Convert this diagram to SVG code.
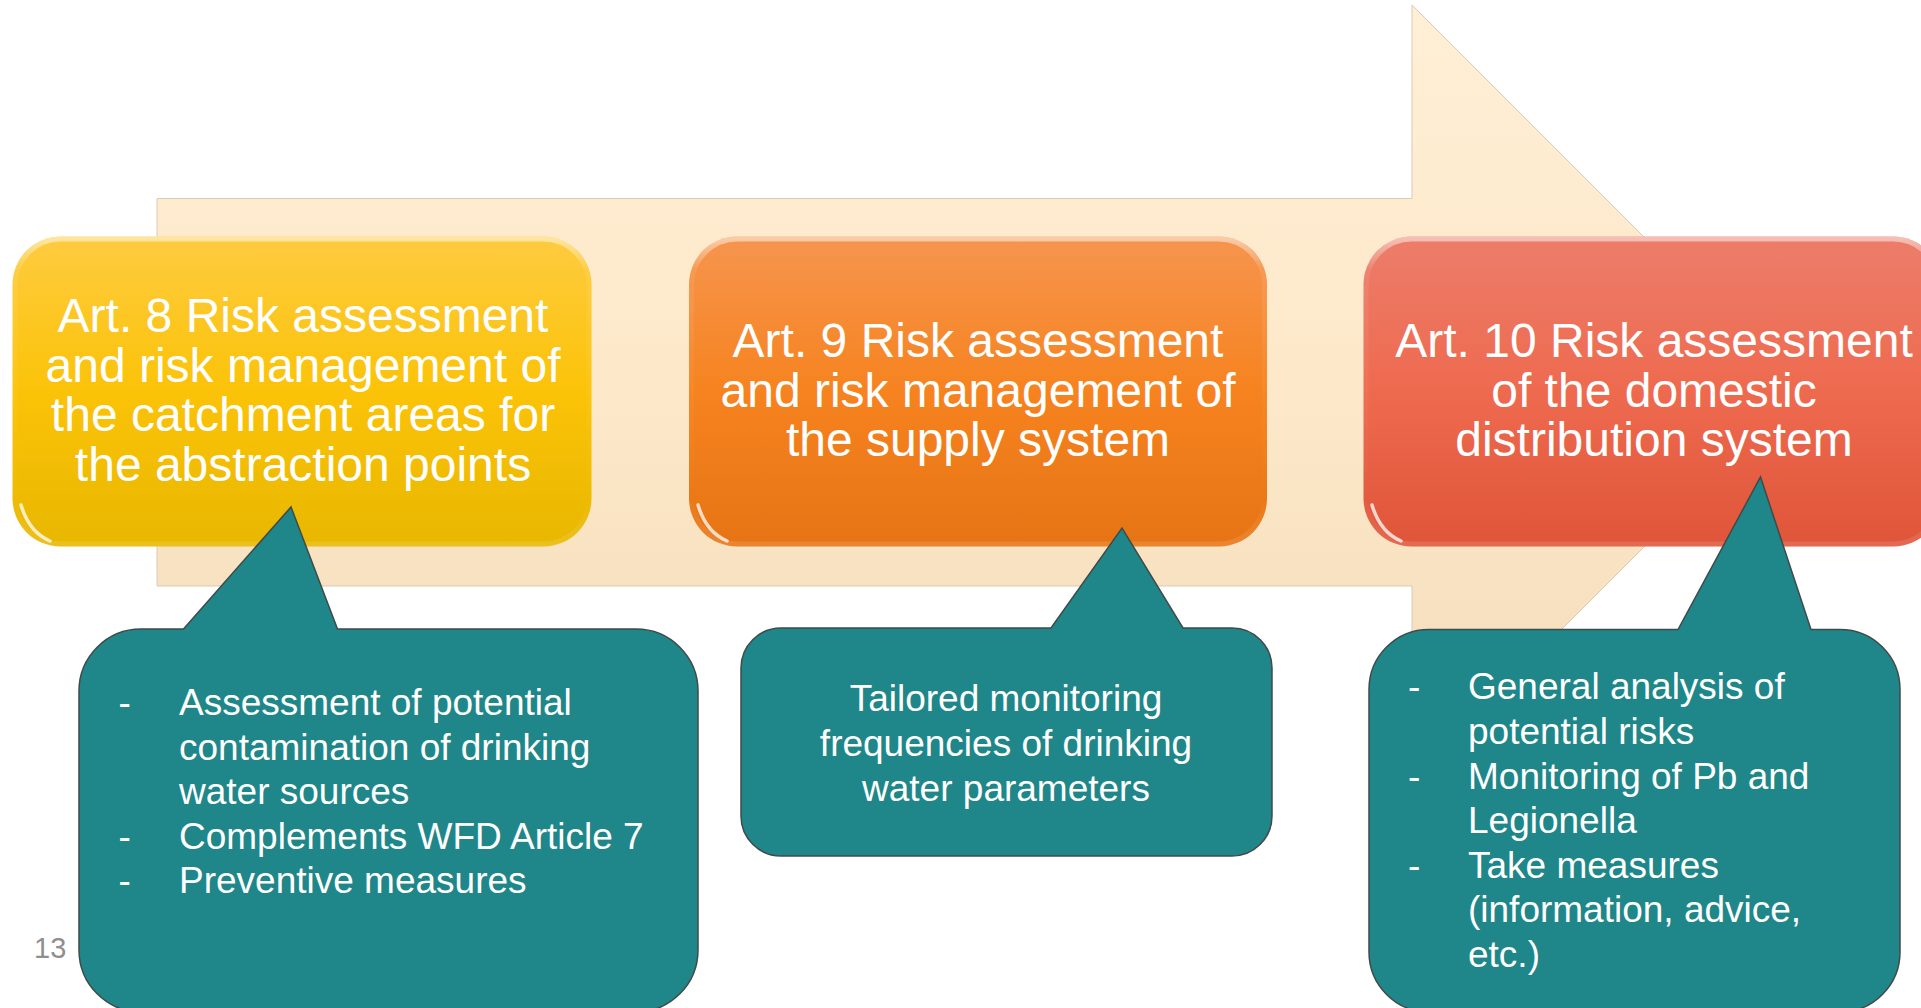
<svg xmlns="http://www.w3.org/2000/svg" width="1921" height="1008" viewBox="0 0 1921 1008">
<defs>
<linearGradient id="gArrow" x1="0" y1="0" x2="0" y2="1">
<stop offset="0" stop-color="#FFEFD6"/>
<stop offset="0.5" stop-color="#FDE8C9"/>
<stop offset="1" stop-color="#F1DBB9"/>
</linearGradient>
<linearGradient id="gY" x1="0" y1="0" x2="0" y2="1">
<stop offset="0" stop-color="#FECB40"/>
<stop offset="0.5" stop-color="#FBC308"/>
<stop offset="1" stop-color="#E8B700"/>
</linearGradient>
<linearGradient id="gO" x1="0" y1="0" x2="0" y2="1">
<stop offset="0" stop-color="#F6954F"/>
<stop offset="0.5" stop-color="#F6831F"/>
<stop offset="1" stop-color="#E77414"/>
</linearGradient>
<linearGradient id="gR" x1="0" y1="0" x2="0" y2="1">
<stop offset="0" stop-color="#EC7D6A"/>
<stop offset="0.5" stop-color="#EE6A4F"/>
<stop offset="1" stop-color="#DF5539"/>
</linearGradient>
<linearGradient id="gRim" x1="0" y1="0" x2="0" y2="1">
<stop offset="0" stop-color="#FFFFFF" stop-opacity="0.5"/>
<stop offset="0.1" stop-color="#FFFFFF" stop-opacity="0.08"/>
<stop offset="0.85" stop-color="#FFFFFF" stop-opacity="0"/>
<stop offset="1" stop-color="#FFFFFF" stop-opacity="0.12"/>
</linearGradient>
</defs>
<style>
.box-text{font-family:"Liberation Sans",Arial,sans-serif;font-size:48px;fill:#FFFFFF;text-anchor:middle}
.call{fill:#1F8789;stroke:#3F4A4A;stroke-width:1.5}
.call-text{font-family:"Liberation Sans",Arial,sans-serif;font-size:37px;fill:#FFFFFF}
.rim{fill:none;stroke:url(#gRim);stroke-width:5}
.hl{fill:none;stroke:#FFFFFF;stroke-width:3.5;stroke-linecap:round;opacity:0.75}
</style>

<g id="arrow">
<polygon points="157,198.5 1412,198.5 1412,5 1799,392 1412,779 1412,586 157,586" fill="url(#gArrow)" stroke="#D9CBB5" stroke-width="1"/>
</g>

<g id="box-art8">
<rect x="12.5" y="236.5" width="579" height="310" rx="48" ry="48" fill="url(#gY)"/>
<rect x="15" y="239" width="574" height="305" rx="46" ry="46" class="rim"/>
<path d="M 21,505 Q 29,532 50,541" class="hl"/>
<text class="box-text"><tspan x="303" y="332">Art. 8 Risk assessment</tspan><tspan x="303" y="381.5">and risk management of</tspan><tspan x="303" y="431">the catchment areas for</tspan><tspan x="303" y="480.5">the abstraction points</tspan></text>
</g>

<g id="box-art9">
<rect x="689" y="236.5" width="578" height="310" rx="48" ry="48" fill="url(#gO)"/>
<rect x="691.5" y="239" width="573" height="305" rx="46" ry="46" class="rim"/>
<path d="M 698,505 Q 706,532 727,541" class="hl"/>
<text class="box-text"><tspan x="978" y="357">Art. 9 Risk assessment</tspan><tspan x="978" y="406.5">and risk management of</tspan><tspan x="978" y="456">the supply system</tspan></text>
</g>

<g id="box-art10">
<rect x="1363.5" y="236.5" width="578" height="310" rx="48" ry="48" fill="url(#gR)"/>
<rect x="1366" y="239" width="573" height="305" rx="46" ry="46" class="rim"/>
<path d="M 1372,505 Q 1380,532 1401,541" class="hl"/>
<text class="box-text"><tspan x="1654" y="357">Art. 10 Risk assessment</tspan><tspan x="1654" y="406.5">of the domestic</tspan><tspan x="1654" y="456">distribution system</tspan></text>
</g>

<g id="callout-art8">
<path class="call" d="M 141,629 L 183.5,629 L 291,507 L 337.5,629 L 636,629 A 62 62 0 0 1 698,691 L 698,950 A 62 62 0 0 1 636,1012 L 141,1012 A 62 62 0 0 1 79,950 L 79,691 A 62 62 0 0 1 141,629 Z"/>
<text class="call-text"><tspan x="118.5" y="715">-</tspan><tspan x="179" y="715">Assessment of potential</tspan><tspan x="179" y="759.6">contamination of drinking</tspan><tspan x="179" y="804.2">water sources</tspan><tspan x="118.5" y="848.8">-</tspan><tspan x="179" y="848.8">Complements WFD Article 7</tspan><tspan x="118.5" y="893.4">-</tspan><tspan x="179" y="893.4">Preventive measures</tspan></text>
</g>

<g id="callout-art9">
<path class="call" d="M 781,628 L 1051,628 L 1122,528 L 1183,628 L 1232,628 A 40 40 0 0 1 1272,668 L 1272,816 A 40 40 0 0 1 1232,856 L 781,856 A 40 40 0 0 1 741,816 L 741,668 A 40 40 0 0 1 781,628 Z"/>
<text class="call-text" text-anchor="middle"><tspan x="1006" y="711">Tailored monitoring</tspan><tspan x="1006" y="756">frequencies of drinking</tspan><tspan x="1006" y="801">water parameters</tspan></text>
</g>

<g id="callout-art10">
<path class="call" d="M 1429,629.5 L 1678,629.5 L 1760.5,477 L 1811,629.5 L 1840,629.5 A 60 60 0 0 1 1900,689.5 L 1900,952 A 60 60 0 0 1 1840,1012 L 1429,1012 A 60 60 0 0 1 1369,952 L 1369,689.5 A 60 60 0 0 1 1429,629.5 Z"/>
<text class="call-text"><tspan x="1408" y="699.4">-</tspan><tspan x="1468" y="699.4">General analysis of</tspan><tspan x="1468" y="744">potential risks</tspan><tspan x="1408" y="788.6">-</tspan><tspan x="1468" y="788.6">Monitoring of Pb and</tspan><tspan x="1468" y="833.2">Legionella</tspan><tspan x="1408" y="877.8">-</tspan><tspan x="1468" y="877.8">Take measures</tspan><tspan x="1468" y="922.4">(information, advice,</tspan><tspan x="1468" y="967">etc.)</tspan></text>
</g>

<g id="connectors"></g>

<text x="34" y="958" font-family="'Liberation Sans',Arial,sans-serif" font-size="29" fill="#8F8F8F">13</text>
</svg>
